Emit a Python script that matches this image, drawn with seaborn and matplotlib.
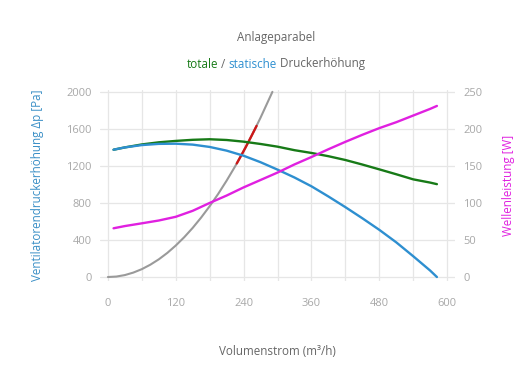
import numpy as np
import pandas as pd
import seaborn as sns
import matplotlib.pyplot as plt

# values
flow = [10, 30, 60, 90, 120, 150, 180, 210, 240, 270, 300, 330, 360, 390, 420, 450, 480, 510, 540, 570, 582]
static_dp = [1375, 1400, 1425, 1438, 1440, 1430, 1405, 1365, 1310, 1240, 1160, 1075, 980, 870, 755, 635, 510, 375, 225, 70, 0]
total_dp = [1375, 1400, 1432, 1455, 1470, 1482, 1488, 1480, 1462, 1437, 1408, 1370, 1340, 1305, 1264, 1215, 1163, 1110, 1055, 1020, 1003]
power_w = [65.8, 68.8, 72.5, 76.3, 81.3, 89.4, 100, 110, 121, 131, 141, 152, 162, 172.5, 182.5, 192, 201, 209, 218, 227, 231]

system_flow = [0, 15, 30, 45, 60, 75, 90, 105, 120, 135, 150, 165, 180, 195, 210, 225, 240, 255, 270, 291]
system_dp = [0, 5, 21, 48, 85, 133, 191, 260, 340, 430, 531, 643, 765, 897, 1041, 1195, 1360, 1535, 1721, 2000]
op_flow = [228, 236, 244, 252, 263]
op_dp = [1227, 1315, 1405, 1500, 1632]

x_ticks = [0, 120, 240, 360, 480, 600]
y_ticks = [0, 400, 800, 1200, 1600, 2000]
y2_ticks = [0, 50, 100, 150, 200, 250]

c_blue = "#2e8fd0"
c_green = "#177a17"
c_pink = "#e020e0"
c_gray = "#9a9a9a"
c_red = "#cc1818"
c_text = "#666666"
c_tick = "#a8a8a8"
c_grid = "#e6e6e6"

sns.set_theme(style="white")
plt.rcParams["font.family"] = ["Open Sans", "DejaVu Sans"]

fan = pd.DataFrame({"flow": flow, "static": static_dp, "total": total_dp, "power": power_w})
sysc = pd.DataFrame({"flow": system_flow, "dp": system_dp})
opc = pd.DataFrame({"flow": op_flow, "dp": op_dp})

fig = plt.figure(figsize=(5.3, 3.9), dpi=100)
ax = fig.add_axes([100 / 530, 1 - 281 / 390, 355 / 530, 191 / 390])
ax2 = ax.twinx()

sns.lineplot(data=sysc, x="flow", y="dp", ax=ax, color=c_gray, lw=1.5)
sns.lineplot(data=opc, x="flow", y="dp", ax=ax, color=c_red, lw=1.7)
sns.lineplot(data=fan, x="flow", y="total", ax=ax, color=c_green, lw=1.7)
sns.lineplot(data=fan, x="flow", y="static", ax=ax, color=c_blue, lw=1.7)
sns.lineplot(data=fan, x="flow", y="power", ax=ax2, color=c_pink, lw=1.7)

ax.set_xlim(-14, 614)
ax.set_ylim(-43, 2020)
ax2.set_ylim(-43 / 8, 2020 / 8)

ax.set_xticks(range(0, 601, 60))
ax.set_xticklabels([str(v) if v in x_ticks else "" for v in range(0, 601, 60)])
ax.set_yticks(y_ticks)
ax2.set_yticks(y2_ticks)

ax.grid(True, color=c_grid, lw=0.9)
ax.set_axisbelow(True)
for a in (ax, ax2):
    for s in a.spines.values():
        s.set_visible(False)

ax.tick_params(axis="x", length=4.5, width=0.8, colors=c_tick, labelsize=8, pad=8)
ax.tick_params(axis="x", color=c_grid)
ax.tick_params(axis="y", length=0, colors=c_tick, labelsize=8, pad=6)
ax2.tick_params(axis="y", length=0, colors=c_tick, labelsize=8, pad=6)

ax.set_xlabel("Volumenstrom (m³/h)", color=c_text, fontsize=8.4, labelpad=26)
ax.set_ylabel("Ventilatorendruckerhöhung Δp [Pa]", color="#3a8fc6", fontsize=8.4, labelpad=16)
ax2.set_ylabel("Wellenleistung [W]", color=c_pink, fontsize=8.4, labelpad=14)

fig.text(276 / 530, 1 - 37 / 390, "Anlageparabel", ha="center", va="center", color=c_text, fontsize=8.4)

# multi-coloured subtitle, each piece placed after the width of the text before it
parts = [("totale", c_green), (" / ", c_text), ("statische", c_blue), (" Druckerhöhung", c_text)]
renderer = fig.canvas.get_renderer()


def text_width(s):
    t = fig.text(0, 0, s + "|", fontsize=8.4)
    w = t.get_window_extent(renderer).width
    t.set_text("|")
    w -= t.get_window_extent(renderer).width
    t.remove()
    return w


full = "".join(p[0] for p in parts)
x0 = 276 - text_width(full) / 2
prefix = ""
for s, c in parts:
    fig.text((x0 + text_width(prefix)) / 530, 1 - 64 / 390, s, ha="left", va="center", color=c, fontsize=8.4)
    prefix += s

fig.savefig("out.png", dpi=100)
